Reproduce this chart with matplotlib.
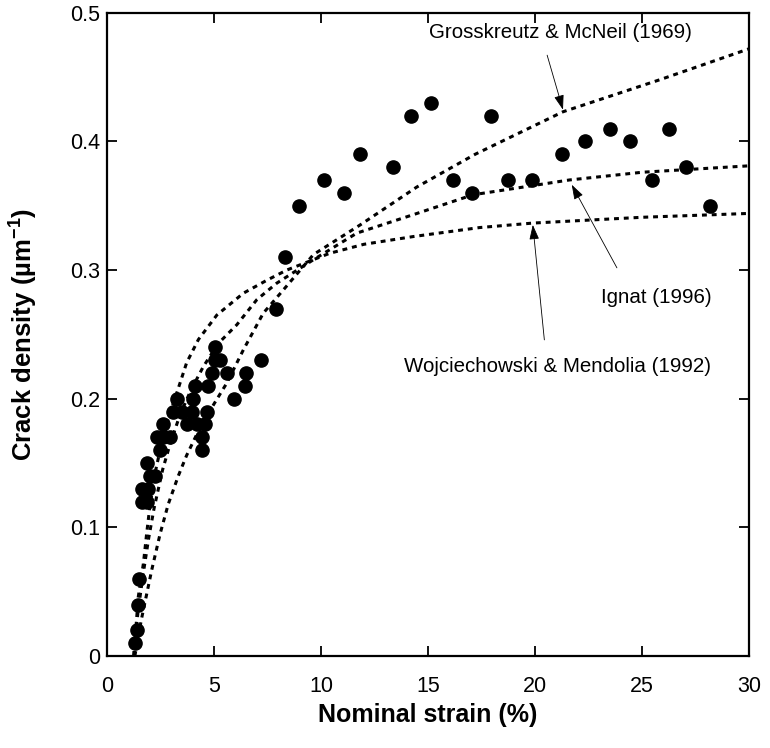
import matplotlib
matplotlib.use("Agg")
import matplotlib.pyplot as plt

plt.rcParams['font.family'] = ['Liberation Sans', 'DejaVu Sans']
plt.rcParams['mathtext.fontset'] = 'custom'
plt.rcParams['mathtext.rm'] = 'Liberation Sans'
plt.rcParams['mathtext.bf'] = 'Liberation Sans:bold'

# measured data (nominal strain %, crack density 1/um)
strain = [1.31, 1.39, 1.43, 1.51,
          1.62, 1.85, 1.62, 1.93, 2.0, 2.24, 1.85,
          2.48, 4.42,
          2.32, 2.63, 2.94, 4.42,
          2.63, 3.72, 4.19, 4.58,
          3.1, 3.49, 3.95, 4.66,
          3.25, 4.0, 5.93,
          4.11, 4.73, 6.45,
          4.89, 5.59, 6.5,
          5.05, 5.3, 7.2,
          5.05, 7.88, 8.32, 8.97,
          10.15, 11.09, 11.82, 13.38, 14.2, 15.14, 16.14, 17.07,
          17.94, 18.75, 19.87, 21.24, 22.34, 23.5, 24.41, 25.48,
          26.27, 27.04, 28.18]
density = [0.01, 0.02, 0.04, 0.06,
           0.12, 0.12, 0.13, 0.13, 0.14, 0.14, 0.15,
           0.16, 0.16,
           0.17, 0.17, 0.17, 0.17,
           0.18, 0.18, 0.18, 0.18,
           0.19, 0.19, 0.19, 0.19,
           0.20, 0.20, 0.20,
           0.21, 0.21, 0.21,
           0.22, 0.22, 0.22,
           0.23, 0.23, 0.23,
           0.24, 0.27, 0.31, 0.35,
           0.37, 0.36, 0.39, 0.38, 0.42, 0.43, 0.37, 0.36,
           0.42, 0.37, 0.37, 0.39, 0.40, 0.41, 0.40, 0.37,
           0.41, 0.38, 0.35]

# model curves
wm_x = [1.25, 1.46, 1.70, 1.85, 2.0, 2.24, 2.48, 2.85, 3.25, 3.72, 4.27, 5.13,
        6.37, 7.46, 8.4, 10.4, 12.0, 14.3, 17.4, 19.9, 25.0, 30.0]
wm_y = [0.0, 0.046, 0.072, 0.095, 0.116, 0.142, 0.160, 0.184, 0.204, 0.228, 0.246, 0.265,
        0.282, 0.292, 0.300, 0.313, 0.320, 0.326, 0.333, 0.3365, 0.341, 0.344]

ig_x = [1.25, 1.45, 1.70, 1.95, 2.2, 2.6, 2.95, 3.4, 3.9, 4.5, 5.2, 6.06, 7.0,
        7.93, 9.64, 11.67, 14.3, 17.1, 21.6, 25.0, 30.0]
ig_y = [0.0, 0.035, 0.065, 0.092, 0.115, 0.145, 0.165, 0.187, 0.206, 0.225, 0.243, 0.2574, 0.277,
        0.2898, 0.308, 0.3287, 0.343, 0.3585, 0.370, 0.376, 0.381]

gm_x = [1.3, 1.6, 2.09, 2.48, 2.86, 3.33, 3.72, 4.3, 5.0, 5.59, 6.37, 7.3,
        8.24, 9.64, 11.82, 14.47, 17.2, 21.3, 25.84, 30.0]
gm_y = [0.0, 0.028, 0.067, 0.095, 0.118, 0.140, 0.156, 0.176, 0.196, 0.212, 0.238, 0.2665,
        0.2846, 0.312, 0.335, 0.3645, 0.390, 0.423, 0.448, 0.472]

x_ticks = [0, 5, 10, 15, 20, 25, 30]
y_ticks = [0, 0.1, 0.2, 0.3, 0.4, 0.5]
y_tick_labels = ['0', '0.1', '0.2', '0.3', '0.4', '0.5']

fig = plt.figure(figsize=(7.7, 7.48), dpi=100)
ax = fig.add_axes([0.139, 0.123, 0.834, 0.860])

dot_style = dict(color='black', lw=2.2, linestyle=(0, (1.6, 1.6)), dash_capstyle='butt')
ax.plot(gm_x, gm_y, **dot_style)
ax.plot(ig_x, ig_y, **dot_style)
ax.plot(wm_x, wm_y, **dot_style)

ax.plot(strain, density, 'o', color='black', markersize=9.5, zorder=3)

ax.set_xlim(0, 30)
ax.set_ylim(0, 0.5)
ax.set_xticks(x_ticks)
ax.set_xticklabels([str(t) for t in x_ticks])
ax.set_yticks(y_ticks)
ax.set_yticklabels(y_tick_labels)
ax.tick_params(direction='in', length=7, width=1.3, top=True, right=True,
               labelsize=15.5)
ax.tick_params(axis='x', pad=14.5)
ax.tick_params(axis='y', pad=5)
for s in ax.spines.values():
    s.set_linewidth(1.6)

ax.set_xlabel('Nominal strain (%)', fontsize=18, fontweight='bold', labelpad=4)
ax.set_ylabel(r'Crack density (µm$^{\mathbf{-1}}$)', fontsize=18.5, fontweight='bold', labelpad=22)

arrow = dict(arrowstyle='-|>,head_length=0.9,head_width=0.3', color='black', lw=0.6,
             shrinkA=0, shrinkB=0)
ax.text(21.2, 0.4844, 'Grosskreutz & McNeil (1969)', ha='center', va='center', fontsize=14.8)
ax.annotate('', xy=(21.3, 0.4246), xytext=(20.56, 0.467), arrowprops=arrow)
ax.text(28.26, 0.279, 'Ignat (1996)', ha='right', va='center', fontsize=14.8)
ax.annotate('', xy=(21.71, 0.3663), xytext=(23.82, 0.3017), arrowprops=arrow)
ax.text(21.05, 0.2247, 'Wojciechowski & Mendolia (1992)', ha='center', va='center', fontsize=14.8)
ax.annotate('', xy=(19.89, 0.3351), xytext=(20.43, 0.2457), arrowprops=arrow)

fig.savefig('out.png', dpi=100)
